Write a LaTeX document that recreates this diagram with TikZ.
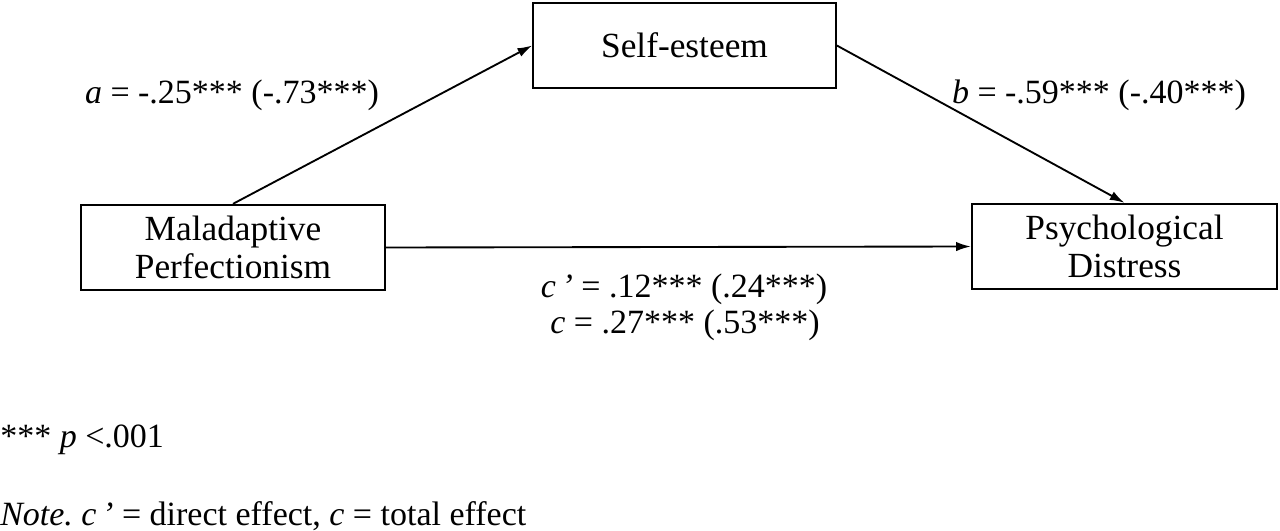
\documentclass[tikz,border=0pt]{standalone}
\usepackage{fontspec}
\setmainfont{Liberation Serif}
\usetikzlibrary{arrows.meta}
\frenchspacing
\begin{document}
\begin{tikzpicture}[x=0.75pt,y=-0.75pt,
  every node/.style={font=\fontsize{25.5}{28}\selectfont, inner sep=0pt},
  box/.style={draw, line width=1.5pt, align=center, font=\fontsize{26.5}{28.5}\selectfont},
  conn/.style={line width=1.4pt, -{Latex[length=11pt,width=7pt]}},
  lab/.style={anchor=base}]
\useasboundingbox (0,0) rectangle (1280,531);
\node[box, minimum width=227pt, minimum height=64pt] (self) at (684.5,45.5) {Self-esteem};
\node[box, minimum width=228pt, minimum height=64pt] (mal) at (233,247.5) {Maladaptive\\Perfectionism};
\node[box, minimum width=229pt, minimum height=64pt] (psy) at (1124.5,246.5) {Psychological\\Distress};
\draw[conn] (mal.north) -- (self.west);
\draw[conn] (self.east) -- (psy.north);
\draw[conn] (mal.east) -- (psy.west);
\node[lab] (la) at (232,104) {\textit{a} = -.25*** (-.73***)};
\node[lab] (lb) at (1099,104) {\textit{b} = -.59*** (-.40***)};
\node[lab] (lc1) at (684,297) {\textit{c\,’} = .12*** (.24***)};
\node[lab] (lc2) at (685,333) {\textit{c} = .27*** (.53***)};
\node[anchor=base west] (sig) at (0,447) {*** \textit{p} <.001};
\node[anchor=base west] (note) at (0,525) {\textit{Note. c\,’} = direct effect, \textit{c} = total effect};
\end{tikzpicture}
\end{document}
